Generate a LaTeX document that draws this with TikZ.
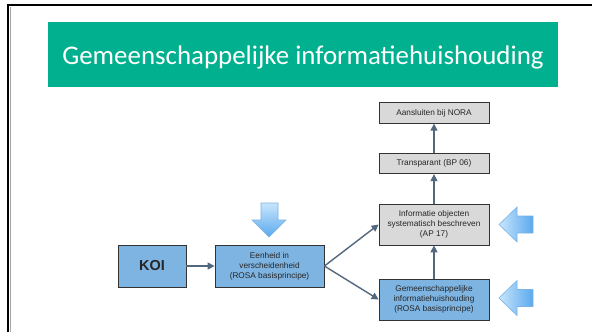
\documentclass[tikz,border=0pt]{standalone}
\usepackage{fontspec}
\setmainfont{Liberation Sans}
\newfontfamily\titlefont{Carlito}
\usetikzlibrary{arrows.meta}
\definecolor{banner}{HTML}{00B08E}
\definecolor{boxblue}{HTML}{7EB4E2}
\definecolor{boxgray}{HTML}{D9D9D9}
\definecolor{conn}{HTML}{52687F}
\definecolor{arrlight}{HTML}{C8E5FC}
\definecolor{arrdark}{HTML}{5AA9EE}
\definecolor{arredge}{HTML}{78B4E6}
\tikzset{
  x=1bp, y=-1bp,
  boxbase/.style={draw=black!80, line width=0.8bp, minimum width=110bp, minimum height=41bp,
    inner sep=1bp, align=center, font=\fontsize{8.3}{10}\selectfont, text=black!85},
  bluebox/.style={boxbase, fill=boxblue},
  graybox/.style={boxbase, fill=boxgray},
  smallbox/.style={boxbase, fill=boxgray, minimum height=20.5bp},
  conline/.style={draw=conn, line width=1.4bp, -{Triangle[length=7bp,width=7bp]}},
  bigarrow/.style={draw=arredge, line width=0.6bp, left color=arrlight, right color=arrdark},
  bigarrowv/.style={draw=arredge, line width=0.6bp, top color=arrlight, bottom color=arrdark},
}
\begin{document}
\begin{tikzpicture}
\useasboundingbox (0,0) rectangle (592,332);
\fill[white] (0,0) rectangle (592,332);
% slide border
\draw[line width=2.5bp, black] (8,332) -- (8,5) -- (592,5);
\draw[line width=1bp, black!35] (10,332) -- (10,7);
% banner
\fill[banner] (48,22) rectangle (558,87);
\node[anchor=base, text=white, font=\titlefont\fontsize{27}{30}\selectfont, inner sep=0pt] (title) at (303,64) {Gemeenschappelijke informatiehuishouding};
% boxes
\node[bluebox, minimum width=68bp, minimum height=42bp, font=\bfseries\fontsize{14.5}{16}\selectfont] (koi) at (152,266) {KOI};
\node[bluebox, minimum width=109bp, minimum height=42bp] (een) at (269.5,266) {Eenheid in\\verscheidenheid\\(ROSA basisprincipe)};
\node[graybox] (info) at (434,224.5) {Informatie objecten\\systematisch beschreven\\(AP 17)};
\node[bluebox] (gem) at (434,299.5) {Gemeenschappelijke\\informatiehuishouding\\(ROSA basisprincipe)};
\node[smallbox] (trans) at (434,163.5) {Transparant (BP 06)};
\node[smallbox] (nora) at (434,113) {Aansluiten bij NORA};
% connectors
\draw[conline] (koi.east) -- (een.west);
\draw[conline] (een.east) -- (info.west);
\draw[conline] (een.east) -- (gem.west);
\draw[conline] (gem.north) -- (info.south);
\draw[conline] (info.north) -- (trans.south);
\draw[conline] (trans.north) -- (nora.south);
% big block arrows
\path[bigarrowv] (261,203) -- (278,203) -- (278,220) -- (286,220) -- (269,237) -- (252,220) -- (261,220) -- cycle;
\path[bigarrow] (533,216) -- (533,233) -- (517,233) -- (517,242) -- (499,224.5) -- (517,207) -- (517,216) -- cycle;
\path[bigarrow] (533,289.5) -- (533,306.5) -- (517,306.5) -- (517,315.5) -- (499,298) -- (517,280.5) -- (517,289.5) -- cycle;
\end{tikzpicture}
\end{document}
